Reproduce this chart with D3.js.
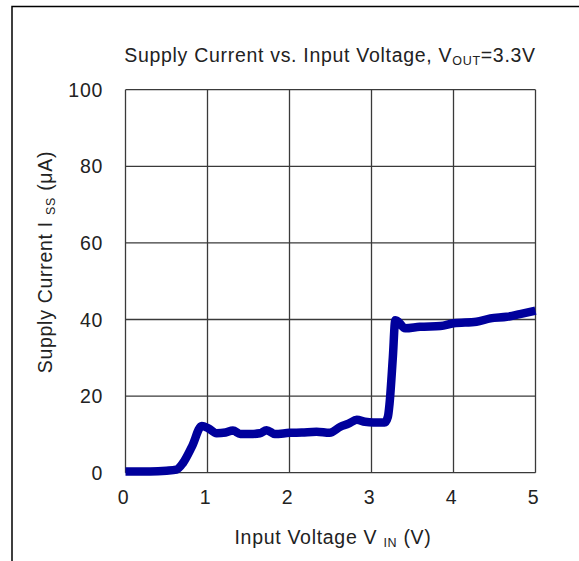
<!DOCTYPE html>
<html><head><meta charset="utf-8">
<script src="https://cdn.jsdelivr.net/npm/d3@7"></script>
<style>body{margin:0;background:#fff;}svg{display:block;font-family:"Liberation Sans",Arial,sans-serif;}</style>
</head><body>
<svg id="c" width="579" height="561"></svg>
<script>
const vin = [0, 0.3, 0.5, 0.62, 0.70, 0.81, 0.93, 1.01, 1.11, 1.22, 1.31, 1.40, 1.52, 1.64, 1.72, 1.82, 2.0, 2.15, 2.33, 2.49, 2.62, 2.72, 2.82, 2.92, 3.02, 3.16, 3.20, 3.22, 3.26, 3.29, 3.31, 3.41, 3.59, 3.84, 4.0, 4.28, 4.45, 4.65, 4.81, 5.0];
const iss = [0.3, 0.3, 0.5, 0.8, 2.5, 6.8, 12.2, 11.6, 10.3, 10.5, 11.0, 10.1, 10.1, 10.3, 11.1, 10.1, 10.4, 10.5, 10.7, 10.4, 12.0, 12.8, 13.8, 13.3, 13.1, 13.1, 14.6, 18, 30, 39.8, 39.7, 37.7, 38.1, 38.3, 39.0, 39.4, 40.3, 40.7, 41.4, 42.3];
const xTicks = [0, 1, 2, 3, 4, 5];
const yTicks = [0, 20, 40, 60, 80, 100];

const svg = d3.select("#c");
const L = 125.5, R = 535.5, T = 89.7, B = 472.7;
const x = d3.scaleLinear().domain([0, 5]).range([L, R]);
const y = d3.scaleLinear().domain([0, 100]).range([B, T]);
const FS = 19.5, SUB = 12.5, LS = 0.7;

// outer frame
svg.append("path").attr("d", "M12,561 V6.5 H579").attr("fill", "none").attr("stroke", "#000").attr("stroke-width", 1.5);

// grid
const g = svg.append("g");
g.selectAll(".vx").data(xTicks).join("line")
  .attr("x1", d => x(d)).attr("x2", d => x(d)).attr("y1", T).attr("y2", B)
  .attr("stroke", "#3a3a3a").attr("stroke-width", 1.3);
g.selectAll(".hy").data(yTicks).join("line")
  .attr("x1", L).attr("x2", R).attr("y1", d => y(d)).attr("y2", d => y(d))
  .attr("stroke", "#3a3a3a").attr("stroke-width", 1.3);

// tick labels
svg.selectAll(".xt").data(xTicks).join("text")
  .attr("x", d => x(d) - 2).attr("y", 504).attr("text-anchor", "middle")
  .attr("font-size", FS).attr("letter-spacing", LS).attr("fill", "#222").text(d => d);
svg.selectAll(".yt").data(yTicks).join("text")
  .attr("x", 103).attr("y", d => y(d) + 7).attr("text-anchor", "end")
  .attr("font-size", FS).attr("letter-spacing", LS).attr("fill", "#222").text(d => d);

// line
const pts = vin.map((v, i) => [v, iss[i]]);
svg.append("path").datum(pts)
  .attr("d", d3.line().x(d => x(d[0])).y(d => y(d[1])).curve(d3.curveMonotoneX))
  .attr("fill", "none").attr("stroke", "#00009c").attr("stroke-width", 8.5)
  .attr("stroke-linejoin", "round").attr("stroke-linecap", "butt");

// title
const t = svg.append("text").attr("x", 330).attr("y", 62).attr("text-anchor", "middle")
  .attr("font-size", FS).attr("letter-spacing", LS).attr("fill", "#222");
t.append("tspan").text("Supply Current vs. Input Voltage,  V");
t.append("tspan").attr("font-size", SUB).attr("dy", 3).text("OUT");
t.append("tspan").attr("dy", -3).text("=3.3V");

// x axis title
const xt = svg.append("text").attr("x", 333).attr("y", 544).attr("text-anchor", "middle")
  .attr("font-size", FS).attr("letter-spacing", LS).attr("fill", "#222");
xt.append("tspan").text("Input Voltage V ");
xt.append("tspan").attr("font-size", SUB).attr("dy", 3).text("IN");
xt.append("tspan").attr("dy", -3).text(" (V)");

// y axis title
const yt = svg.append("text").attr("transform", "translate(52,262) rotate(-90)").attr("text-anchor", "middle")
  .attr("font-size", FS).attr("letter-spacing", LS).attr("fill", "#222");
yt.append("tspan").text("Supply Current I ");
yt.append("tspan").attr("font-size", SUB).attr("dy", 3).text("SS");
yt.append("tspan").attr("dy", -3).text(" (μA)");
</script>
</body></html>
